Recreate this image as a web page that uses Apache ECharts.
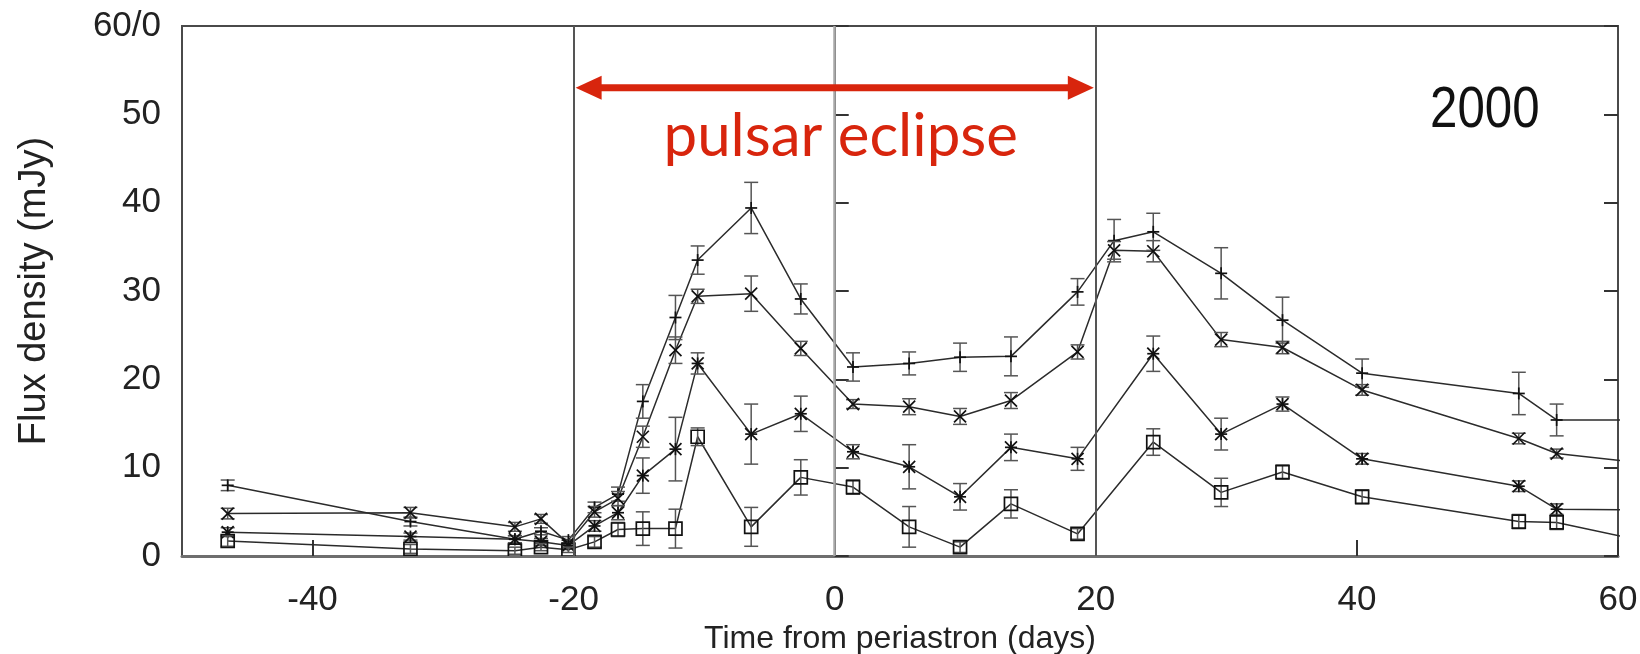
<!DOCTYPE html>
<html>
<head>
<meta charset="utf-8">
<script src="https://cdn.jsdelivr.net/npm/echarts@6/dist/echarts.min.js"></script>
<style>
  html, body { margin: 0; padding: 0; background: #fff; }
  #chart { width: 1640px; height: 654px; }
</style>
</head>
<body>
<div id="chart"></div>
<script>
// Observation epochs, days from periastron (last epoch lies just past the plotted range)
const days = [-46.5, -32.5, -24.5, -22.5, -20.4, -18.4, -16.6, -14.7, -12.2, -10.5, -6.4, -2.6,
              1.4, 5.7, 9.6, 13.5, 18.6, 21.4, 24.4, 29.6, 34.3, 40.4, 52.4, 55.3, 63];

// Flux densities (mJy) and 1-sigma errors for the four bands (+, x, *, square)
const fluxPlus   = [8.0, 3.9, 1.9, 2.8, 1.8, 5.5, 7.0, 17.5, 27.0, 33.5, 39.4, 29.1,
                    21.4, 21.8, 22.5, 22.6, 29.9, 35.7, 36.7, 32.0, 26.7, 20.7, 18.4, 15.4, 15.4];
const errPlus    = [0.6, 0.5, 0.4, 0.4, 0.4, 0.6, 0.8, 1.9, 2.5, 1.6, 2.9, 1.7,
                    1.6, 1.3, 1.6, 2.2, 1.5, 2.4, 2.1, 2.9, 2.6, 1.6, 2.4, 1.8, 0];

const fluxCross  = [4.8, 4.9, 3.3, 4.2, 1.4, 5.0, 6.5, 13.5, 23.3, 29.4, 29.7, 23.5,
                    17.2, 16.9, 15.8, 17.6, 23.1, 34.6, 34.5, 24.5, 23.6, 18.8, 13.3, 11.6, 10.35];
const errCross   = [0.6, 0.6, 0.5, 0.5, 0.4, 0.6, 0.8, 1.2, 1.5, 0.8, 2.0, 0.8,
                    0.5, 0.9, 0.9, 0.9, 0.8, 1.0, 1.2, 0.8, 0.7, 0.6, 0.6, 0.5, 0];

const fluxStar   = [2.7, 2.2, 1.9, 1.6, 1.2, 3.4, 4.9, 9.1, 12.1, 21.8, 13.8, 16.1,
                    11.8, 10.1, 6.7, 12.3, 11.0, null, 22.9, 13.8, 17.2, 11.0, 7.9, 5.3, 5.2];
const errStar    = [0.5, 0.4, 0.4, 0.4, 0.3, 0.6, 0.8, 2.0, 3.6, 1.2, 3.4, 2.0,
                    0.8, 2.5, 1.5, 1.5, 1.3, null, 2.0, 1.8, 0.8, 0.6, 0.6, 0.6, 0];

const fluxSquare = [1.7, 0.8, 0.6, 1.0, 0.7, 1.6, 3.0, 3.1, 3.1, 13.5, 3.3, 8.9,
                    7.8, 3.3, 1.0, 5.9, 2.5, null, 12.9, 7.2, 9.5, 6.7, 3.9, 3.8, 1.35];
const errSquare  = [0.6, 0.5, 0.4, 0.4, 0.3, 0.6, 0.8, 1.9, 2.2, 1.0, 2.2, 2.0,
                    0.8, 2.3, 0.6, 1.6, 0.6, null, 1.5, 1.6, 0.8, 0.8, 0.8, 0.8, 0];

// Axis ticks
const xTickValues = [-40, -20, 0, 20, 40, 60];
const yTickStep = 10;

// Eclipse window and periastron epoch
const eclipseEdges = [-20, 20];
const periastron = 0;
const yearLabel = '2000';

const RED = '#d8250d';
const SANS = "'Liberation Sans', Arial, sans-serif";

function pairs(flux) {
  const out = [];
  days.forEach((d, i) => { if (flux[i] != null) out.push([d, flux[i]]); });
  return out;
}

function triples(flux, err) {
  const out = [];
  days.forEach((d, i) => { if (flux[i] != null) out.push([d, flux[i], err[i]]); });
  return out;
}

function lineSeries(name, flux, extra) {
  return Object.assign({
    type: 'line',
    name: name,
    data: pairs(flux),
    showSymbol: false,
    symbol: 'none',
    clip: true,
    lineStyle: { color: '#2b2b2b', width: 1.5 },
    z: 3,
    animation: false,
    silent: true
  }, extra || {});
}

// Error bars with caps plus a point glyph drawn in gnuplot style
function glyphSeries(name, shape, flux, err) {
  return {
    type: 'custom',
    name: name,
    data: triples(flux, err),
    clip: true,
    z: 4,
    silent: true,
    animation: false,
    renderItem: function (params, api) {
      const x = api.value(0), y = api.value(1), e = api.value(2);
      const c = api.coord([x, y]);
      const children = [];
      const bar = { stroke: '#555', lineWidth: 1.5 };
      const cap = 7;
      if (e > 0) {
        const t = api.coord([x, y + e]), b = api.coord([x, y - e]);
        children.push({ type: 'line', shape: { x1: c[0], y1: t[1], x2: c[0], y2: b[1] }, style: bar });
        children.push({ type: 'line', shape: { x1: c[0] - cap, y1: t[1], x2: c[0] + cap, y2: t[1] }, style: bar });
        children.push({ type: 'line', shape: { x1: c[0] - cap, y1: b[1], x2: c[0] + cap, y2: b[1] }, style: bar });
      }
      const s = 6;
      const pen = { stroke: '#111', lineWidth: 1.7, fill: null };
      if (shape === 'plus' || shape === 'star') {
        children.push({ type: 'line', shape: { x1: c[0] - s, y1: c[1], x2: c[0] + s, y2: c[1] }, style: pen });
        children.push({ type: 'line', shape: { x1: c[0], y1: c[1] - s, x2: c[0], y2: c[1] + s }, style: pen });
      }
      if (shape === 'cross' || shape === 'star') {
        children.push({ type: 'line', shape: { x1: c[0] - s, y1: c[1] - s, x2: c[0] + s, y2: c[1] + s }, style: pen });
        children.push({ type: 'line', shape: { x1: c[0] - s, y1: c[1] + s, x2: c[0] + s, y2: c[1] - s }, style: pen });
      }
      if (shape === 'square') {
        children.push({ type: 'rect', shape: { x: c[0] - 6.5, y: c[1] - 6.5, width: 13, height: 13 }, style: pen });
      }
      return { type: 'group', children: children };
    }
  };
}

// Double-headed arrow marking the eclipse, with its caption
const annotationSeries = {
  type: 'custom',
  name: 'eclipse',
  data: [[eclipseEdges[0], 53, eclipseEdges[1]]],
  z: 6,
  silent: true,
  animation: false,
  renderItem: function (params, api) {
    const a = api.coord([api.value(0), api.value(1)]);
    const b = api.coord([api.value(2), api.value(1)]);
    const head = 26, half = 12;
    const y = a[1];
    const mid = (a[0] + b[0]) / 2;
    return {
      type: 'group',
      children: [
        { type: 'line', shape: { x1: a[0] + head - 2, y1: y, x2: b[0] - head + 2, y2: y },
          style: { stroke: RED, lineWidth: 7 } },
        { type: 'polygon', shape: { points: [[a[0] + 2, y], [a[0] + 2 + head, y - half], [a[0] + 2 + head, y + half]] },
          style: { fill: RED } },
        { type: 'polygon', shape: { points: [[b[0] - 2, y], [b[0] - 2 - head, y - half], [b[0] - 2 - head, y + half]] },
          style: { fill: RED } },
        { type: 'text', x: mid + 6, y: y + 49,
          style: { text: 'pulsar eclipse', fill: RED, fontFamily: 'Lato', fontSize: 60,
                   align: 'center', verticalAlign: 'middle' } }
      ]
    };
  }
};

const chart = echarts.init(document.getElementById('chart'), null, { renderer: 'canvas' });

chart.setOption({
  backgroundColor: '#fff',
  animation: false,
  grid: {
    left: 182, right: 22, top: 26, bottom: 98,
    outerBoundsMode: 'none',
    containLabel: false,
    show: true, borderColor: '#4a4a4a', borderWidth: 2, backgroundColor: 'transparent'
  },
  xAxis: {
    type: 'value',
    min: -50, max: 60,
    name: 'Time from periastron (days)',
    nameLocation: 'middle',
    nameGap: 59,
    nameTextStyle: { fontFamily: SANS, fontSize: 32, color: '#222' },
    axisLine: { show: true, onZero: false, lineStyle: { color: '#6e6e6e', width: 3 } },
    axisTick: { show: true, inside: true, length: 16, customValues: xTickValues,
                lineStyle: { color: '#333', width: 2 } },
    axisLabel: { customValues: xTickValues, margin: 27, fontFamily: SANS,
                 fontSize: 35, color: '#222' },
    splitLine: { show: false }
  },
  yAxis: [
    {
      type: 'value',
      min: 0, max: 60, interval: yTickStep,
      name: 'Flux density (mJy)',
      nameLocation: 'middle',
      nameGap: 128,
      nameTextStyle: { fontFamily: SANS, fontSize: 38, color: '#222' },
      axisLine: { show: true, lineStyle: { color: '#4a4a4a', width: 2 } },
      axisTick: { show: true, inside: true, length: 14, lineStyle: { color: '#333', width: 2 } },
      axisLabel: {
        margin: 21, fontFamily: SANS, fontSize: 35, color: '#222',
        formatter: function (v) { return v === 60 ? '60/0' : String(v); }
      },
      splitLine: { show: false }
    },
    {
      type: 'value',
      position: 'right',
      min: 0, max: 60, interval: yTickStep,
      axisLine: { show: true, lineStyle: { color: '#4a4a4a', width: 2 } },
      axisTick: { show: true, inside: true, length: 14, lineStyle: { color: '#333', width: 2 } },
      axisLabel: { show: false },
      splitLine: { show: false }
    }
  ],
  graphic: [
    { type: 'text', left: 1430, top: 82, scaleX: 0.85,
      style: { text: yearLabel, fontFamily: SANS, fontSize: 58, fill: '#111' } }
  ],
  series: [
    lineSeries('plus', fluxPlus, {
      markLine: {
        silent: true, symbol: 'none', animation: false,
        label: { show: false },
        data: [
          { xAxis: eclipseEdges[0], lineStyle: { color: '#555', width: 2, type: 'solid' } },
          { xAxis: periastron, lineStyle: { color: '#a8a8a8', width: 2.5, type: 'solid' } },
          { xAxis: eclipseEdges[1], lineStyle: { color: '#555', width: 2, type: 'solid' } }
        ]
      }
    }),
    lineSeries('cross', fluxCross),
    lineSeries('star', fluxStar),
    lineSeries('square', fluxSquare),
    glyphSeries('plus pts', 'plus', fluxPlus, errPlus),
    glyphSeries('cross pts', 'cross', fluxCross, errCross),
    glyphSeries('star pts', 'star', fluxStar, errStar),
    glyphSeries('square pts', 'square', fluxSquare, errSquare),
    annotationSeries
  ]
});
</script>
</body>
</html>
